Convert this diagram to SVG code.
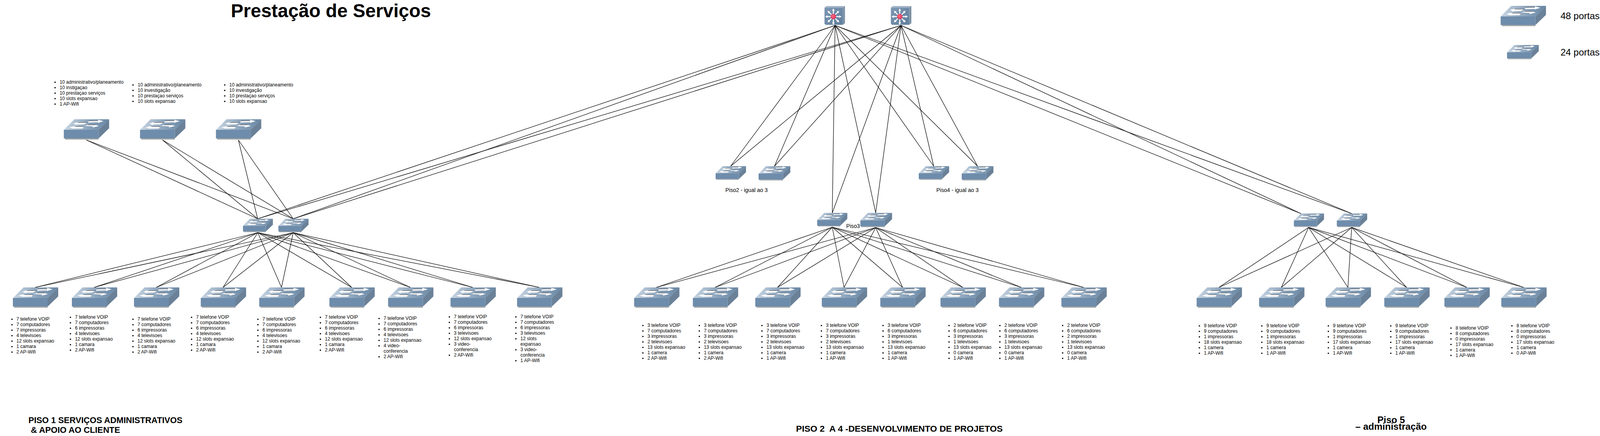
<svg xmlns="http://www.w3.org/2000/svg" width="4129" height="1115" viewBox="0 0 4129 1115">
<style>
text{font-family:"Liberation Sans",Arial,sans-serif;fill:#000}
.t{font-size:12px}
.l{font-size:14px}
.h{font-weight:bold;white-space:pre}
.c line{stroke:#000;stroke-width:1.25;fill:none}
.bu{fill:#000}
</style>
<defs>
<linearGradient id="top" x1="0" y1="0.5" x2="1" y2="0.5"><stop offset="0" stop-color="#c9d6e3"/><stop offset="0.55" stop-color="#8ba3bb"/><stop offset="1" stop-color="#6786a4"/></linearGradient>
<linearGradient id="rf" x1="0" y1="0" x2="1" y2="1"><stop offset="0" stop-color="#7f97b2"/><stop offset="1" stop-color="#5f7e9d"/></linearGradient>
<radialGradient id="red" cx="0.4" cy="0.4" r="0.7"><stop offset="0" stop-color="#ff6a80"/><stop offset="1" stop-color="#d92c55"/></radialGradient>
<g id="sw">
<polygon points="3,49 89,49 89,52 3,52" fill="#a9a9a9"/>
<polygon points="27,0 116,0 89,27 0,27" fill="url(#top)"/>
<polygon points="116,0 116,23 89,49 89,27" fill="#6a8198"/>
<rect x="0" y="27" width="89" height="22" fill="#6e8cab"/>
<polygon points="64,4.3 88,3.3 87,1 101.7,5 87,9.3 87,7.7 61.7,8.3" fill="#fff"/>
<polygon points="24,11 40,5.7 35,8.3 61,8.3 51.7,13.3 31.7,13.3 35,16" fill="#fff"/>
<polygon points="53.3,16.7 61.7,14.3 81,14.3 75,12.7 90,17.3 73.3,21 75,18.3" fill="#fff"/>
<polygon points="14,21 28.3,16.7 25,19 51,19 48.3,23.7 23,23.7 28.3,25" fill="#fff"/>
<path d="M64 4H88M35 8.3H61M61.7 14.3H81M30 18.7H51" stroke="#222" stroke-width="0.8" fill="none"/>
</g>
<g id="ar"><path d="M0-7V-16" stroke="#fff" stroke-width="2.6"/><polygon points="-3.4,-15 3.4,-15 0,-21" fill="#fff"/></g>
<g id="rt">
<polygon points="0,4 5,0 52.5,0 47,4" fill="#9db0c4"/>
<polygon points="47,4 52.5,0 52.5,44 47,48" fill="#7f92a6"/>
<polygon points="0,4 47,4 47,48 3,48 0,45" fill="url(#rf)"/>
<g transform="translate(22.7 27)">
<use href="#ar"/><use href="#ar" transform="rotate(45)"/><use href="#ar" transform="rotate(90)"/><use href="#ar" transform="rotate(135)"/><use href="#ar" transform="rotate(180)"/><use href="#ar" transform="rotate(225)"/><use href="#ar" transform="rotate(270)"/><use href="#ar" transform="rotate(315)"/>
<circle r="6.8" fill="url(#red)"/>
</g>
</g>
<circle id="b1" r="1.8" class="bu"/>
<g id="b4"><use href="#b1"/><use href="#b1" y="14"/><use href="#b1" y="28"/><use href="#b1" y="42"/></g>
<g id="b5"><use href="#b4"/><use href="#b1" y="56"/></g>
<g id="b6"><use href="#b5"/><use href="#b1" y="70"/></g>
<g id="b7"><use href="#b6"/><use href="#b1" y="84"/></g>
</defs>
<rect width="4129" height="1115" fill="#fff"/>

<g id="connectors" class="c">
<line x1="221" y1="358" x2="659.6" y2="559.5"/><line x1="221" y1="358" x2="750.6" y2="559.5"/>
<line x1="416" y1="358" x2="659.6" y2="559.5"/><line x1="416" y1="358" x2="750.6" y2="559.5"/>
<line x1="610.3" y1="358" x2="659.6" y2="559.5"/><line x1="610.3" y1="358" x2="750.6" y2="559.5"/>
<line x1="2137.8" y1="65" x2="659.6" y2="559.5"/><line x1="2137.8" y1="65" x2="750.6" y2="559.5"/>
<line x1="2306.6" y1="65" x2="659.6" y2="559.5"/><line x1="2306.6" y1="65" x2="750.6" y2="559.5"/>
<line x1="2137.8" y1="65" x2="1870.4" y2="425"/><line x1="2137.8" y1="65" x2="1982.6" y2="425"/>
<line x1="2137.8" y1="65" x2="2130.6" y2="544.5"/><line x1="2137.8" y1="65" x2="2241.8" y2="544.5"/>
<line x1="2137.8" y1="65" x2="2390.3" y2="425"/><line x1="2137.8" y1="65" x2="2502.6" y2="425"/>
<line x1="2137.8" y1="65" x2="3331" y2="546.5"/><line x1="2137.8" y1="65" x2="3461" y2="546.5"/>
<line x1="2306.6" y1="65" x2="1870.4" y2="425"/><line x1="2306.6" y1="65" x2="1982.6" y2="425"/>
<line x1="2306.6" y1="65" x2="2130.6" y2="544.5"/><line x1="2306.6" y1="65" x2="2241.8" y2="544.5"/>
<line x1="2306.6" y1="65" x2="2390.3" y2="425"/><line x1="2306.6" y1="65" x2="2502.6" y2="425"/>
<line x1="2306.6" y1="65" x2="3331" y2="546.5"/><line x1="2306.6" y1="65" x2="3461" y2="546.5"/>
<line x1="660" y1="595" x2="90" y2="735"/><line x1="660" y1="595" x2="241" y2="735"/><line x1="660" y1="595" x2="400" y2="735"/><line x1="660" y1="595" x2="571" y2="735"/><line x1="660" y1="595" x2="720.6" y2="735"/><line x1="660" y1="595" x2="900.3" y2="735"/><line x1="660" y1="595" x2="1050.5" y2="735"/><line x1="660" y1="595" x2="1210.3" y2="735"/><line x1="660" y1="595" x2="1380.7" y2="735"/>
<line x1="750.6" y1="595" x2="90" y2="735"/><line x1="750.6" y1="595" x2="241" y2="735"/><line x1="750.6" y1="595" x2="400" y2="735"/><line x1="750.6" y1="595" x2="571" y2="735"/><line x1="750.6" y1="595" x2="720.6" y2="735"/><line x1="750.6" y1="595" x2="900.3" y2="735"/><line x1="750.6" y1="595" x2="1050.5" y2="735"/><line x1="750.6" y1="595" x2="1210.3" y2="735"/><line x1="750.6" y1="595" x2="1380.7" y2="735"/>
<line x1="2130.6" y1="581" x2="1680.4" y2="735"/><line x1="2130.6" y1="581" x2="1830.7" y2="735"/><line x1="2130.6" y1="581" x2="1990.5" y2="735"/><line x1="2130.6" y1="581" x2="2160.8" y2="735"/><line x1="2130.6" y1="581" x2="2310.6" y2="735"/><line x1="2130.6" y1="581" x2="2464.7" y2="735"/><line x1="2130.6" y1="581" x2="2614.4" y2="735"/><line x1="2130.6" y1="581" x2="2774.2" y2="735"/>
<line x1="2241.8" y1="582" x2="1680.4" y2="735"/><line x1="2241.8" y1="582" x2="1830.7" y2="735"/><line x1="2241.8" y1="582" x2="1990.5" y2="735"/><line x1="2241.8" y1="582" x2="2160.8" y2="735"/><line x1="2241.8" y1="582" x2="2310.6" y2="735"/><line x1="2241.8" y1="582" x2="2464.7" y2="735"/><line x1="2241.8" y1="582" x2="2614.4" y2="735"/><line x1="2241.8" y1="582" x2="2774.2" y2="735"/>
<line x1="3350" y1="581.7" x2="3120.4" y2="735"/><line x1="3350" y1="581.7" x2="3280.3" y2="735"/><line x1="3350" y1="581.7" x2="3450.6" y2="735"/><line x1="3350" y1="581.7" x2="3600.8" y2="735"/><line x1="3350" y1="581.7" x2="3755" y2="735"/><line x1="3350" y1="581.7" x2="3900.7" y2="735"/>
<line x1="3460.3" y1="581.7" x2="3120.4" y2="735"/><line x1="3460.3" y1="581.7" x2="3280.3" y2="735"/><line x1="3460.3" y1="581.7" x2="3450.6" y2="735"/><line x1="3460.3" y1="581.7" x2="3600.8" y2="735"/><line x1="3460.3" y1="581.7" x2="3755" y2="735"/><line x1="3460.3" y1="581.7" x2="3900.7" y2="735"/>
</g>

<g id="router-1" transform="translate(2110.7 15.4)"><use href="#rt"/></g>
<g id="router-2" transform="translate(2280.6 15.4)"><use href="#rt"/></g>

<g id="sw-admin-1" transform="translate(163.4 305)"><use href="#sw"/></g>
<g id="sw-admin-2" transform="translate(358.5 305)"><use href="#sw"/></g>
<g id="sw-admin-3" transform="translate(552.8 305)"><use href="#sw"/></g>
<g id="dist-p1-1" transform="translate(622 559.5) scale(.66)"><use href="#sw"/></g>
<g id="dist-p1-2" transform="translate(712.7 559.5) scale(.665)"><use href="#sw"/></g>
<g id="dist-p2-1" transform="translate(1832 425) scale(.67)"><use href="#sw"/></g>
<g id="dist-p2-2" transform="translate(1942 425) scale(.7)"><use href="#sw"/></g>
<g id="dist-p4-1" transform="translate(2352 425) scale(.67)"><use href="#sw"/></g>
<g id="dist-p4-2" transform="translate(2462 425) scale(.7)"><use href="#sw"/></g>
<g id="dist-p3-1" transform="translate(2092 544.5) scale(.665)"><use href="#sw"/></g>
<g id="dist-p3-2" transform="translate(2202.5 544.5) scale(.7)"><use href="#sw"/></g>
<g id="dist-p5-1" transform="translate(3312.3 546) scale(.665)"><use href="#sw"/></g>
<g id="dist-p5-2" transform="translate(3422.3 546) scale(.67)"><use href="#sw"/></g>

<g id="sw-p1-1" transform="translate(33 735)"><use href="#sw"/></g>
<g id="sw-p1-2" transform="translate(184 735)"><use href="#sw"/></g>
<g id="sw-p1-3" transform="translate(343 735)"><use href="#sw"/></g>
<g id="sw-p1-4" transform="translate(514 735)"><use href="#sw"/></g>
<g id="sw-p1-5" transform="translate(663.6 735)"><use href="#sw"/></g>
<g id="sw-p1-6" transform="translate(843.3 735)"><use href="#sw"/></g>
<g id="sw-p1-7" transform="translate(993.5 735)"><use href="#sw"/></g>
<g id="sw-p1-8" transform="translate(1153.3 735)"><use href="#sw"/></g>
<g id="sw-p1-9" transform="translate(1323.7 735)"><use href="#sw"/></g>

<g id="sw-p3-1" transform="translate(1623.4 735)"><use href="#sw"/></g>
<g id="sw-p3-2" transform="translate(1773.7 735)"><use href="#sw"/></g>
<g id="sw-p3-3" transform="translate(1933.5 735)"><use href="#sw"/></g>
<g id="sw-p3-4" transform="translate(2103.8 735)"><use href="#sw"/></g>
<g id="sw-p3-5" transform="translate(2253.6 735)"><use href="#sw"/></g>
<g id="sw-p3-6" transform="translate(2407.7 735)"><use href="#sw"/></g>
<g id="sw-p3-7" transform="translate(2557.4 735)"><use href="#sw"/></g>
<g id="sw-p3-8" transform="translate(2717.2 735)"><use href="#sw"/></g>

<g id="sw-p5-1" transform="translate(3063.4 735)"><use href="#sw"/></g>
<g id="sw-p5-2" transform="translate(3223.3 735)"><use href="#sw"/></g>
<g id="sw-p5-3" transform="translate(3393.6 735)"><use href="#sw"/></g>
<g id="sw-p5-4" transform="translate(3543.8 735)"><use href="#sw"/></g>
<g id="sw-p5-5" transform="translate(3697.7 735)"><use href="#sw"/></g>
<g id="sw-p5-6" transform="translate(3843.3 735)"><use href="#sw"/></g>

<g id="legend">
<use href="#sw" transform="translate(3841.7 15)"/>
<use href="#sw" transform="translate(3858 115) scale(.7)"/>
<text x="3995" y="49" font-size="24">48 portas</text>
<text x="3995" y="141.7" font-size="24">24 portas</text>
</g>

<g id="titles">
<text class="h" x="591" y="43.5" font-size="48">Prestação de Serviços</text>
<text class="h" x="72.7" y="1081.7" font-size="21.8">PISO 1 SERVIÇOS ADMINISTRATIVOS</text>
<text class="h" x="79" y="1107" font-size="21.8">&amp; APOIO AO CLIENTE</text>
<text class="h" x="2037.8" y="1104" font-size="22.8" xml:space="preserve">PISO 2  A 4 -DESENVOLVIMENTO DE PROJETOS</text>
<text class="h" x="3526" y="1081.7" font-size="24">Piso 5</text>
<text class="h" x="3469.7" y="1099" font-size="24">– administração</text>
<text class="l" x="1857" y="491">Piso2 - igual ao 3</text>
<text class="l" x="2397" y="491">Piso4 - igual ao 3</text>
<text class="l" x="2166.3" y="583">Piso3</text>
</g>

<g id="lists-admin">
<use href="#b5" x="141" y="210.2"/>
<text class="t" y="199.7"><tspan x="152.7" dy="14">10 administrativo/planeamento</tspan><tspan x="152.7" dy="14">10 instigaçao</tspan><tspan x="152.7" dy="14">10 prestaçao serviços</tspan><tspan x="152.7" dy="14">10 slots expansao</tspan><tspan x="152.7" dy="14">1 AP-Wifi</tspan></text>
<use href="#b4" x="340.5" y="217.2"/>
<text class="t" y="206.7"><tspan x="352.5" dy="14">10 administrativo/planeamento</tspan><tspan x="352.5" dy="14">10 investigação</tspan><tspan x="352.5" dy="14">10 prestaçao serviços</tspan><tspan x="352.5" dy="14">10 slots expansao</tspan></text>
<use href="#b4" x="575.3" y="217.2"/>
<text class="t" y="206.7"><tspan x="587" dy="14">10 administrativo/planeamento</tspan><tspan x="587" dy="14">10 investigação</tspan><tspan x="587" dy="14">10 prestaçao serviços</tspan><tspan x="587" dy="14">10 slots expansao</tspan></text>
</g>

<g id="lists-p1">
<use href="#b7" x="30.6" y="816.5"/>
<text class="t" y="806"><tspan x="42" dy="14">7 telefone VOIP</tspan><tspan x="42" dy="14">7 computadores</tspan><tspan x="42" dy="14">7 impressoras</tspan><tspan x="42" dy="14">4 televisoes</tspan><tspan x="42" dy="14">12 slots expansao</tspan><tspan x="42" dy="14">1 camara</tspan><tspan x="42" dy="14">2 AP-Wifi</tspan></text>
<use href="#b7" x="180.3" y="811.5"/>
<text class="t" y="801"><tspan x="191.9" dy="14">7 telefone VOIP</tspan><tspan x="191.9" dy="14">7 computadores</tspan><tspan x="191.9" dy="14">6 impressoras</tspan><tspan x="191.9" dy="14">4 televisoes</tspan><tspan x="191.9" dy="14">12 slots expansao</tspan><tspan x="191.9" dy="14">1 camara</tspan><tspan x="191.9" dy="14">2 AP-Wifi</tspan></text>
<use href="#b7" x="340.4" y="816.5"/>
<text class="t" y="806"><tspan x="352" dy="14">7 telefone VOIP</tspan><tspan x="352" dy="14">7 computadores</tspan><tspan x="352" dy="14">6 impressoras</tspan><tspan x="352" dy="14">4 televisoes</tspan><tspan x="352" dy="14">12 slots expansao</tspan><tspan x="352" dy="14">1 camara</tspan><tspan x="352" dy="14">2 AP-Wifi</tspan></text>
<use href="#b7" x="490.4" y="811.5"/>
<text class="t" y="801"><tspan x="502" dy="14">7 telefone VOIP</tspan><tspan x="502" dy="14">7 computadores</tspan><tspan x="502" dy="14">6 impressoras</tspan><tspan x="502" dy="14">4 televisoes</tspan><tspan x="502" dy="14">12 slots expansao</tspan><tspan x="502" dy="14">1 camara</tspan><tspan x="502" dy="14">2 AP-Wifi</tspan></text>
<use href="#b7" x="660.2" y="816.5"/>
<text class="t" y="806"><tspan x="671.8" dy="14">7 telefone VOIP</tspan><tspan x="671.8" dy="14">7 computadores</tspan><tspan x="671.8" dy="14">6 impressoras</tspan><tspan x="671.8" dy="14">4 televisoes</tspan><tspan x="671.8" dy="14">12 slots expansao</tspan><tspan x="671.8" dy="14">1 camara</tspan><tspan x="671.8" dy="14">2 AP-Wifi</tspan></text>
<use href="#b7" x="820.2" y="811.5"/>
<text class="t" y="801"><tspan x="831.8" dy="14">7 telefone VOIP</tspan><tspan x="831.8" dy="14">7 computadores</tspan><tspan x="831.8" dy="14">6 impressoras</tspan><tspan x="831.8" dy="14">4 televisoes</tspan><tspan x="831.8" dy="14">12 slots expansao</tspan><tspan x="831.8" dy="14">1 camara</tspan><tspan x="831.8" dy="14">2 AP-Wifi</tspan></text>
<use href="#b6" x="970.4" y="814.5"/><use href="#b1" x="970.4" y="912.5"/>
<text class="t" y="804"><tspan x="982" dy="14">7 telefone VOIP</tspan><tspan x="982" dy="14">7 computadores</tspan><tspan x="982" dy="14">6 impressoras</tspan><tspan x="982" dy="14">4 televisoes</tspan><tspan x="982" dy="14">12 slots expansao</tspan><tspan x="982" dy="14">4 video-</tspan><tspan x="982" dy="14">conferencia</tspan><tspan x="982" dy="14">2 AP-Wifi</tspan></text>
<use href="#b5" x="1150.4" y="810.5"/><use href="#b1" x="1150.4" y="880.5"/><use href="#b1" x="1150.4" y="908.5"/>
<text class="t" y="800"><tspan x="1162" dy="14">7 telefone VOIP</tspan><tspan x="1162" dy="14">7 computadores</tspan><tspan x="1162" dy="14">6 impressoras</tspan><tspan x="1162" dy="14">3 televisoes</tspan><tspan x="1162" dy="14">12 slots expansao</tspan><tspan x="1162" dy="14">3 video-</tspan><tspan x="1162" dy="14">conferencia</tspan><tspan x="1162" dy="14">2 AP-Wifi</tspan></text>
<use href="#b5" x="1320.7" y="810.5"/><use href="#b1" x="1320.7" y="894.5"/><use href="#b1" x="1320.7" y="922.5"/>
<text class="t" y="800"><tspan x="1332.3" dy="14">7 telefone VOIP</tspan><tspan x="1332.3" dy="14">7 computadores</tspan><tspan x="1332.3" dy="14">6 impressoras</tspan><tspan x="1332.3" dy="14">3 televisoes</tspan><tspan x="1332.3" dy="14">12 slots</tspan><tspan x="1332.3" dy="14">expansao</tspan><tspan x="1332.3" dy="14">3 video-</tspan><tspan x="1332.3" dy="14">conferencia</tspan><tspan x="1332.3" dy="14">1 AP-Wifi</tspan></text>
</g>

<g id="lists-p3">
<use href="#b7" x="1645.8" y="832.5"/>
<text class="t" y="822"><tspan x="1657.4" dy="14">3 telefone VOIP</tspan><tspan x="1657.4" dy="14">7 computadores</tspan><tspan x="1657.4" dy="14">3 impressoras</tspan><tspan x="1657.4" dy="14">2 televisoes</tspan><tspan x="1657.4" dy="14">13 slots expansao</tspan><tspan x="1657.4" dy="14">1 camera</tspan><tspan x="1657.4" dy="14">2 AP-Wifi</tspan></text>
<use href="#b7" x="1790.3" y="832.5"/>
<text class="t" y="822"><tspan x="1801.9" dy="14">3 telefone VOIP</tspan><tspan x="1801.9" dy="14">7 computadores</tspan><tspan x="1801.9" dy="14">3 impressoras</tspan><tspan x="1801.9" dy="14">2 televisoes</tspan><tspan x="1801.9" dy="14">13 slots expansao</tspan><tspan x="1801.9" dy="14">1 camera</tspan><tspan x="1801.9" dy="14">2 AP-Wifi</tspan></text>
<use href="#b7" x="1950.6" y="832.5"/>
<text class="t" y="822"><tspan x="1962.2" dy="14">3 telefone VOIP</tspan><tspan x="1962.2" dy="14">7 computadores</tspan><tspan x="1962.2" dy="14">3 impressoras</tspan><tspan x="1962.2" dy="14">2 televisoes</tspan><tspan x="1962.2" dy="14">13 slots expansao</tspan><tspan x="1962.2" dy="14">1 camera</tspan><tspan x="1962.2" dy="14">1 AP-Wifi</tspan></text>
<use href="#b7" x="2102.8" y="832.5"/>
<text class="t" y="822"><tspan x="2114.4" dy="14">3 telefone VOIP</tspan><tspan x="2114.4" dy="14">7 computadores</tspan><tspan x="2114.4" dy="14">3 impressoras</tspan><tspan x="2114.4" dy="14">2 televisoes</tspan><tspan x="2114.4" dy="14">13 slots expansao</tspan><tspan x="2114.4" dy="14">1 camera</tspan><tspan x="2114.4" dy="14">1 AP-Wifi</tspan></text>
<use href="#b7" x="2260.6" y="832.5"/>
<text class="t" y="822"><tspan x="2272.2" dy="14">3 telefone VOIP</tspan><tspan x="2272.2" dy="14">6 computadores</tspan><tspan x="2272.2" dy="14">3 impressoras</tspan><tspan x="2272.2" dy="14">1 televisoes</tspan><tspan x="2272.2" dy="14">13 slots expansao</tspan><tspan x="2272.2" dy="14">1 camera</tspan><tspan x="2272.2" dy="14">1 AP-Wifi</tspan></text>
<use href="#b7" x="2429.5" y="832.5"/>
<text class="t" y="822"><tspan x="2441.1" dy="14">2 telefone VOIP</tspan><tspan x="2441.1" dy="14">6 computadores</tspan><tspan x="2441.1" dy="14">3 impressoras</tspan><tspan x="2441.1" dy="14">1 televisoes</tspan><tspan x="2441.1" dy="14">13 slots expansao</tspan><tspan x="2441.1" dy="14">0 camera</tspan><tspan x="2441.1" dy="14">1 AP-Wifi</tspan></text>
<use href="#b7" x="2559.7" y="832.5"/>
<text class="t" y="822"><tspan x="2571.3" dy="14">2 telefone VOIP</tspan><tspan x="2571.3" dy="14">6 computadores</tspan><tspan x="2571.3" dy="14">3 impressoras</tspan><tspan x="2571.3" dy="14">1 televisoes</tspan><tspan x="2571.3" dy="14">13 slots expansao</tspan><tspan x="2571.3" dy="14">0 camera</tspan><tspan x="2571.3" dy="14">1 AP-Wifi</tspan></text>
<use href="#b7" x="2720.4" y="832.5"/>
<text class="t" y="822"><tspan x="2732" dy="14">2 telefone VOIP</tspan><tspan x="2732" dy="14">6 computadores</tspan><tspan x="2732" dy="14">2 impressoras</tspan><tspan x="2732" dy="14">1 televisoes</tspan><tspan x="2732" dy="14">13 slots expansao</tspan><tspan x="2732" dy="14">0 camera</tspan><tspan x="2732" dy="14">1 AP-Wifi</tspan></text>
</g>

<g id="lists-p5">
<use href="#b6" x="3070.5" y="833.5"/>
<text class="t" y="823"><tspan x="3082.1" dy="14">9 telefone VOIP</tspan><tspan x="3082.1" dy="14">9 computadores</tspan><tspan x="3082.1" dy="14">1 impressoras</tspan><tspan x="3082.1" dy="14">18 slots expansao</tspan><tspan x="3082.1" dy="14">1 camera</tspan><tspan x="3082.1" dy="14">1 AP-Wifi</tspan></text>
<use href="#b6" x="3230.3" y="833.5"/>
<text class="t" y="823"><tspan x="3241.9" dy="14">9 telefone VOIP</tspan><tspan x="3241.9" dy="14">9 computadores</tspan><tspan x="3241.9" dy="14">1 impressoras</tspan><tspan x="3241.9" dy="14">18 slots expansao</tspan><tspan x="3241.9" dy="14">1 camera</tspan><tspan x="3241.9" dy="14">1 AP-Wifi</tspan></text>
<use href="#b6" x="3400.6" y="833.5"/>
<text class="t" y="823"><tspan x="3412.2" dy="14">9 telefone VOIP</tspan><tspan x="3412.2" dy="14">9 computadores</tspan><tspan x="3412.2" dy="14">1 impressoras</tspan><tspan x="3412.2" dy="14">17 slots expansao</tspan><tspan x="3412.2" dy="14">1 camera</tspan><tspan x="3412.2" dy="14">1 AP-Wifi</tspan></text>
<use href="#b6" x="3560.4" y="833.5"/>
<text class="t" y="823"><tspan x="3572" dy="14">9 telefone VOIP</tspan><tspan x="3572" dy="14">9 computadores</tspan><tspan x="3572" dy="14">1 impressoras</tspan><tspan x="3572" dy="14">17 slots expansao</tspan><tspan x="3572" dy="14">1 camera</tspan><tspan x="3572" dy="14">1 AP-Wifi</tspan></text>
<use href="#b6" x="3714.5" y="839"/>
<text class="t" y="828.5"><tspan x="3726.3" dy="14">8 telefone VOIP</tspan><tspan x="3726.3" dy="14">8 computadores</tspan><tspan x="3726.3" dy="14">0 impressoras</tspan><tspan x="3726.3" dy="14">17 slots expansao</tspan><tspan x="3726.3" dy="14">1 camera</tspan><tspan x="3726.3" dy="14">1 AP-Wifi</tspan></text>
<use href="#b6" x="3870.5" y="833.2"/>
<text class="t" y="822.7"><tspan x="3882.3" dy="14">8 telefone VOIP</tspan><tspan x="3882.3" dy="14">8 computadores</tspan><tspan x="3882.3" dy="14">0 impressoras</tspan><tspan x="3882.3" dy="14">17 slots expansao</tspan><tspan x="3882.3" dy="14">1 camera</tspan><tspan x="3882.3" dy="14">0 AP-Wifi</tspan></text>
</g>
</svg>
